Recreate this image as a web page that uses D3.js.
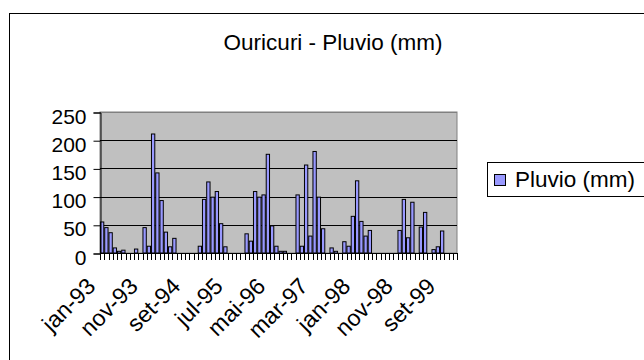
<!DOCTYPE html>
<html>
<head>
<meta charset="utf-8">
<script src="https://cdn.jsdelivr.net/npm/d3@7"></script>
<style>
  html, body { margin: 0; padding: 0; background: #fff; }
  svg { display: block; font-family: Arial, "Liberation Sans", sans-serif; }
</style>
</head>
<body>
<svg id="chart" width="644" height="360"></svg>
<script>
// ---- DATA ----
const monthNames = ["jan","fev","mar","abr","mai","jun","jul","ago","set","out","nov","dez"];
const years = ["93","94","95","96","97","98","99"];
const pluvio = [
  55, 45, 36, 9, 3, 5, 0, 0, 7, 0, 45, 12,
  211, 142, 93, 37, 11, 26, 0, 0, 0, 0, 0, 12,
  95, 126, 99, 109, 52, 11, 0, 0, 0, 0, 34, 21,
  109, 99, 103, 175, 48, 12, 3, 3, 0, 0, 103, 12,
  156, 30, 180, 99, 43, 0, 9, 3, 0, 20, 12, 65,
  128, 56, 30, 40, 0, 0, 0, 0, 0, 0, 40, 95,
  27, 90, 0, 46, 72, 0, 6, 11, 39, 0, 0, 0
];
const tickLabels = ["jan-93","nov-93","set-94","jul-95","mai-96","mar-97","jan-98","nov-98","set-99"];
const yTicks = [0, 50, 100, 150, 200, 250];
const titleText = "Ouricuri - Pluvio (mm)";
const seriesName = "Pluvio (mm)";

const categories = [];
years.forEach(y => monthNames.forEach(m => categories.push(m + "-" + y)));

// ---- LAYOUT ----
const svg = d3.select("#chart");
const plot = { left: 100, right: 457, top: 112, bottom: 253 };

svg.append("rect").attr("width", 644).attr("height", 360).attr("fill", "#fff");
// chart area border
svg.append("rect").attr("x", 9.5).attr("y", 13.5).attr("width", 700).attr("height", 400)
  .attr("fill", "none").attr("stroke", "#000").attr("stroke-width", 1);

// title
svg.append("text").attr("x", 333).attr("y", 50).attr("text-anchor", "middle")
  .attr("font-size", 22.5).attr("fill", "#000").text(titleText);

const x = d3.scaleBand().domain(categories).range([plot.left, plot.right]).paddingInner(0.22).paddingOuter(0.11);
const xb = d3.scaleBand().domain(categories).range([plot.left, plot.right]);
const y = d3.scaleLinear().domain([0, 250]).range([plot.bottom, plot.top]);

// plot background
svg.append("rect").attr("x", plot.left).attr("y", plot.top)
  .attr("width", plot.right - plot.left).attr("height", plot.bottom - plot.top)
  .attr("fill", "#c0c0c0").attr("stroke", "#808080").attr("stroke-width", 1);

// gridlines
svg.append("g").selectAll("line").data(yTicks.filter(d => d > 0)).join("line")
  .attr("x1", plot.left).attr("x2", plot.right)
  .attr("y1", d => Math.round(y(d)) + 0.5).attr("y2", d => Math.round(y(d)) + 0.5)
  .attr("stroke", d => d === 250 ? "#808080" : "#000").attr("stroke-width", 1);

// bars
svg.append("g").selectAll("rect").data(pluvio).join("rect")
  .attr("x", (d, i) => x(categories[i]))
  .attr("width", x.bandwidth())
  .attr("y", d => y(d))
  .attr("height", d => y(0) - y(d))
  .attr("fill", "#9999ff").attr("stroke", "#000").attr("stroke-width", 1)
  .attr("visibility", d => d > 0 ? "visible" : "hidden");

// y axis
const yAxis = d3.axisLeft(y).tickValues(yTicks).tickSize(7).tickPadding(7);
const gy = svg.append("g").attr("transform", `translate(${plot.left + 0.5},0.5)`).call(yAxis);
gy.select(".domain").attr("stroke", "#000");
gy.selectAll(".tick line").attr("stroke", "#000");
gy.selectAll(".tick text").attr("font-size", 21).attr("font-family", "Arial, 'Liberation Sans', sans-serif")
  .attr("fill", "#000").attr("dy", "0.5em");

// x axis: tick marks at category boundaries
const boundaries = d3.range(categories.length + 1).map(i => plot.left + i * xb.step());
const gx = svg.append("g");
gx.append("line").attr("x1", plot.left).attr("x2", plot.right)
  .attr("y1", plot.bottom + 0.5).attr("y2", plot.bottom + 0.5).attr("stroke", "#000");
gx.selectAll("line.tk").data(boundaries).join("line").attr("class", "tk")
  .attr("x1", d => Math.round(d) + 0.5).attr("x2", d => Math.round(d) + 0.5)
  .attr("y1", plot.bottom).attr("y2", plot.bottom + 7).attr("stroke", "#000");

// x labels: every 10th category
const labelIdx = tickLabels.map(l => categories.indexOf(l));
gx.selectAll("text").data(labelIdx).join("text")
  .attr("transform", i => `translate(${xb(categories[i]) + xb.bandwidth() / 2 - 11},${plot.bottom + 29}) rotate(-45)`)
  .attr("text-anchor", "end").attr("dy", "0.35em")
  .attr("font-size", 23).attr("fill", "#000")
  .text(i => categories[i]);

// legend
const lg = svg.append("g");
lg.append("rect").attr("x", 487.5).attr("y", 162.5).attr("width", 170).attr("height", 34)
  .attr("fill", "#fff").attr("stroke", "#000");
lg.append("rect").attr("x", 494.5).attr("y", 174.5).attr("width", 11).attr("height", 11)
  .attr("fill", "#9999ff").attr("stroke", "#000");
lg.append("text").attr("x", 515).attr("y", 187).attr("font-size", 22.5).attr("fill", "#000").text(seriesName);
</script>
</body>
</html>
